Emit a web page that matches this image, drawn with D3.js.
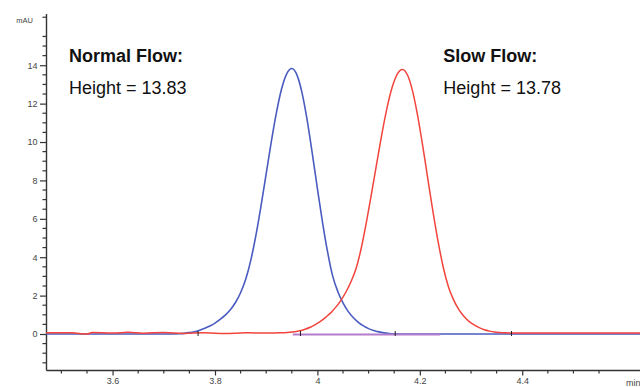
<!DOCTYPE html>
<html>
<head>
<meta charset="utf-8">
<script src="https://cdn.jsdelivr.net/npm/d3@7"></script>
<style>
  html, body { margin: 0; padding: 0; background: #fff; }
  svg { display: block; font-family: "Liberation Sans", Arial, Helvetica, sans-serif; }
</style>
</head>
<body>
<svg id="chart" width="640" height="387"></svg>
<script>
// ---- data ----
const xMajorTicks = [3.6, 3.8, 4.0, 4.2, 4.4];
const xTickLabels = ["3.6", "3.8", "4", "4.2", "4.4"];
const yMajorTicks = [0, 2, 4, 6, 8, 10, 12, 14];
const yTickLabels = ["0", "2", "4", "6", "8", "10", "12", "14"];

// Normal flow trace (blue): retention time (min) and absorbance (mAU)
const blueTime = [3.47, 3.60, 3.71, 3.73, 3.74, 3.75, 3.76, 3.77, 3.78, 3.79, 3.80, 3.81, 3.82, 3.83, 3.84, 3.85, 3.86, 3.87, 3.88, 3.89, 3.90, 3.91, 3.92, 3.93, 3.94, 3.95, 3.96, 3.97, 3.98, 3.99, 4.00, 4.01, 4.02, 4.03, 4.04, 4.05, 4.06, 4.07, 4.08, 4.09, 4.10, 4.11, 4.12, 4.13, 4.14, 4.15, 4.17, 4.30, 4.63];
const blueVal  = [0, 0, 0, 0.015, 0.035, 0.07, 0.12, 0.2, 0.3, 0.42, 0.57, 0.76, 0.98, 1.26, 1.64, 2.15, 2.85, 3.85, 5.15, 6.69, 8.35, 10.02, 11.53, 12.76, 13.55, 13.83, 13.5, 12.56, 11.14, 9.41, 7.58, 5.82, 4.26, 3.0, 2.2, 1.62, 1.18, 0.86, 0.61, 0.42, 0.28, 0.18, 0.11, 0.06, 0.03, 0.012, 0, 0, 0];

// Slow flow trace (red)
const redTime = [3.47, 3.52, 3.55, 3.56, 3.60, 3.63, 3.66, 3.70, 3.74, 3.78, 3.82, 3.86, 3.906, 3.926, 3.936, 3.946, 3.956, 3.966, 3.976, 3.986, 3.996, 4.006, 4.016, 4.026, 4.036, 4.046, 4.056, 4.066, 4.076, 4.086, 4.096, 4.106, 4.116, 4.126, 4.136, 4.146, 4.156, 4.166, 4.176, 4.186, 4.196, 4.206, 4.216, 4.226, 4.236, 4.246, 4.256, 4.266, 4.276, 4.286, 4.296, 4.306, 4.316, 4.326, 4.336, 4.346, 4.356, 4.366, 4.386, 4.63];
const redVal  = [0.06, 0.06, 0.0, 0.08, 0.05, 0.09, 0.04, 0.08, 0.03, 0.07, 0.02, 0.06, 0.05, 0.06, 0.07, 0.09, 0.12, 0.17, 0.25, 0.35, 0.49, 0.66, 0.87, 1.1, 1.4, 1.75, 2.2, 2.75, 3.45, 4.52, 5.87, 7.36, 8.91, 10.43, 11.78, 12.85, 13.54, 13.78, 13.49, 12.64, 11.34, 9.75, 8.02, 6.32, 4.77, 3.45, 2.45, 1.78, 1.28, 0.92, 0.66, 0.47, 0.33, 0.22, 0.15, 0.1, 0.075, 0.06, 0.05, 0.05];

// Integration baseline segment and peak start/end markers (min)
const baselineSeg = [3.952, 4.24];
const peakMarks = [3.767, 3.967, 4.152, 4.379];

// Annotations
const annotations = [
  { title: "Normal Flow:", text: "Height = 13.83", t: 3.515 },
  { title: "Slow Flow:",   text: "Height = 13.78", t: 4.246 }
];

// ---- layout ----
const svg = d3.select("#chart");
const x = d3.scaleLinear().domain([3.47, 4.63]).range([46, 640]);
const y = d3.scaleLinear().domain([-1.875, 16.7]).range([370, 13.4]);
const axisColor = "#333";

// Y axis
const yMinor = d3.range(-1.5, 16.6, 0.5).filter(v => Math.abs(v % 2) > 1e-9);
const gy = svg.append("g").attr("transform", "translate(46,0)");
gy.call(d3.axisLeft(y).tickValues(yMajorTicks).tickFormat((d, i) => yTickLabels[i]).tickSize(6).tickPadding(2.5).tickSizeOuter(0));
gy.select(".domain").attr("stroke", axisColor).attr("stroke-width", 1.4);
gy.selectAll(".tick line").attr("stroke", axisColor).attr("stroke-width", 1.2);
gy.selectAll(".tick text").attr("fill", "#444").attr("font-size", 9);
gy.selectAll(".minor").data(yMinor).enter().append("line")
  .attr("x1", -3.5).attr("x2", 0).attr("y1", d => y(d)).attr("y2", d => y(d))
  .attr("stroke", axisColor).attr("stroke-width", 1.2);
svg.append("text").attr("x", 33).attr("y", 23).attr("text-anchor", "end")
  .attr("font-size", 7.5).attr("fill", "#444").text("mAU");

// X axis
const xMinor = d3.range(3.5, 4.63, 0.05).filter(v => Math.abs((v * 100) % 20) > 1e-6 && Math.abs((v * 100) % 20 - 20) > 1e-6);
const gx = svg.append("g").attr("transform", "translate(0,370)");
gx.call(d3.axisBottom(x).tickValues(xMajorTicks).tickFormat((d, i) => xTickLabels[i]).tickSize(5.5).tickPadding(2).tickSizeOuter(0));
gx.select(".domain").attr("stroke", axisColor).attr("stroke-width", 1.4);
gx.selectAll(".tick line").attr("stroke", axisColor).attr("stroke-width", 1.2);
gx.selectAll(".tick text").attr("fill", "#444").attr("font-size", 9);
gx.selectAll(".minor").data(xMinor).enter().append("line")
  .attr("x1", d => x(d)).attr("x2", d => x(d)).attr("y1", 0).attr("y2", 3.5)
  .attr("stroke", axisColor).attr("stroke-width", 1.2);
svg.append("text").attr("x", 626).attr("y", 386).attr("font-size", 9).attr("fill", "#444").text("min");

// Traces
const line = d3.line().curve(d3.curveMonotoneX).x(d => x(d[0])).y(d => y(d[1]));
const blueData = blueTime.map((t, i) => [t, blueVal[i]]);
const redData = redTime.map((t, i) => [t, redVal[i]]);

svg.append("path").datum(blueData).attr("d", line)
  .attr("fill", "none").attr("stroke", "#4a5cc0").attr("stroke-width", 1.6);
svg.append("path").datum(baselineSeg.map(t => [t, -0.02])).attr("d", line)
  .attr("fill", "none").attr("stroke", "#b47ccc").attr("stroke-width", 2);
svg.append("path").datum(redData).attr("d", line)
  .attr("fill", "none").attr("stroke", "#f2443c").attr("stroke-width", 1.5);

// Peak start/end markers
const mk = svg.append("g");
peakMarks.forEach(t => {
  mk.append("line").attr("x1", x(t)).attr("x2", x(t)).attr("y1", y(0) - 3).attr("y2", y(0) + 2)
    .attr("stroke", "#222").attr("stroke-width", 1);
});

// Annotations
annotations.forEach(a => {
  svg.append("text").attr("x", x(a.t)).attr("y", 62).attr("font-size", 18)
    .attr("font-weight", "bold").attr("fill", "#111").text(a.title);
  svg.append("text").attr("x", x(a.t)).attr("y", 94).attr("font-size", 18)
    .attr("fill", "#111").text(a.text);
});
</script>
</body>
</html>
